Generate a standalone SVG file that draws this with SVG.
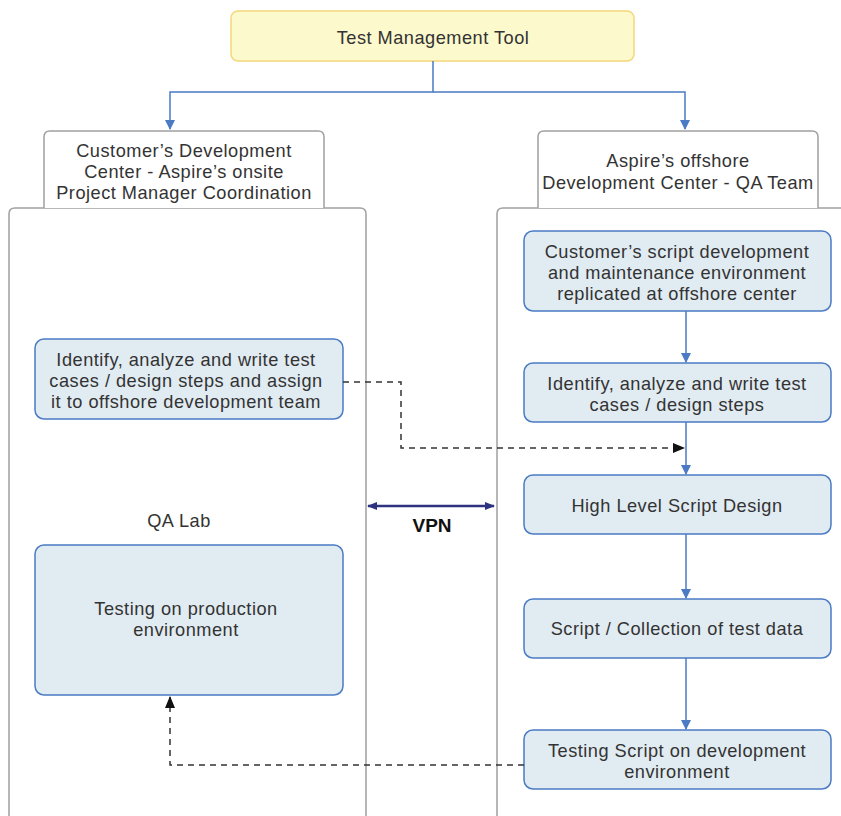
<svg xmlns="http://www.w3.org/2000/svg" width="841" height="816" viewBox="0 0 841 816">
<defs>
<style>
text{font-family:"Liberation Sans",Arial,sans-serif;font-size:18.2px;letter-spacing:0.5px;fill:#333;text-anchor:middle}
.hdr{fill:#fff;stroke:#a0a0a0;stroke-width:1.5}
.blue{fill:#e1ebf2;stroke:#4a7bc4;stroke-width:1.5}
.bl{stroke:#4a7bc4;stroke-width:1.5;fill:none}
.dash{stroke:#333;stroke-width:1.5;fill:none;stroke-dasharray:6,5}
</style>
<marker id="ab" markerWidth="10" markerHeight="10" refX="9" refY="5" orient="auto" markerUnits="userSpaceOnUse"><path d="M0,0 L10,5 L0,10 Z" fill="#4a7bc4"/></marker>
<marker id="ak" markerWidth="12" markerHeight="10" refX="11" refY="5" orient="auto" markerUnits="userSpaceOnUse"><path d="M0,0 L12,5 L0,10 Z" fill="#111"/></marker>
<marker id="av" markerWidth="10" markerHeight="10" refX="9" refY="5" orient="auto-start-reverse" markerUnits="userSpaceOnUse"><path d="M0,1 L10,5 L0,9 Z" fill="#2e3380"/></marker>
</defs>
<g id="containers">
<path class="hdr" d="M9,816 V214 Q9,208 15,208 H360 Q366,208 366,214 V816"/>
<path class="hdr" d="M497,816 V214 Q497,208 503,208 H841"/>
</g>
<g id="n-tool"><rect x="231" y="11" width="403" height="50" rx="7" fill="#fcf9cd" stroke="#f3d77b" stroke-width="1.5"/><text x="433" y="44">Test Management Tool</text></g>
<g id="n-customer"><path class="hdr" d="M44,208 V137 Q44,131 50,131 H318 Q324,131 324,137 V208"/><text x="184" y="157">Customer’s Development</text><text x="184" y="178">Center - Aspire’s onsite</text><text x="184" y="199">Project Manager Coordination</text></g>
<g id="n-offshore"><path class="hdr" d="M538,208 V137 Q538,131 544,131 H812 Q818,131 818,137 V208"/><text x="678" y="167">Aspire’s offshore</text><text x="678" y="189">Development Center - QA Team</text></g>
<g id="n-left1"><rect class="blue" x="35" y="339" width="308" height="80" rx="9"/><text x="186" y="366">Identify, analyze and write test</text><text x="186" y="387">cases / design steps and assign</text><text x="186" y="408">it to offshore development team</text></g>
<g id="n-qalab"><text x="179" y="527">QA Lab</text></g>
<g id="n-left2"><rect class="blue" x="35" y="545" width="308" height="150" rx="9"/><text x="186" y="615">Testing on production</text><text x="186" y="636">environment</text></g>
<g id="n-r1"><rect class="blue" x="524" y="231" width="307" height="80" rx="9"/><text x="677" y="258">Customer’s script development</text><text x="677" y="279">and maintenance environment</text><text x="677" y="300">replicated at offshore center</text></g>
<g id="n-r2"><rect class="blue" x="524" y="363" width="307" height="59" rx="9"/><text x="677" y="390">Identify, analyze and write test</text><text x="677" y="411">cases / design steps</text></g>
<g id="n-r3"><rect class="blue" x="524" y="475" width="307" height="59" rx="9"/><text x="677" y="512">High Level Script Design</text></g>
<g id="n-r4"><rect class="blue" x="524" y="599" width="307" height="59" rx="9"/><text x="677" y="635">Script / Collection of test data</text></g>
<g id="n-r5"><rect class="blue" x="524" y="730" width="307" height="59" rx="9"/><text x="677" y="757">Testing Script on development</text><text x="677" y="778">environment</text></g>
<g id="connectors">
<path class="bl" d="M433,61 V92 H170 V129" marker-end="url(#ab)"/>
<path class="bl" d="M433,92 H685 V129" marker-end="url(#ab)"/>
<path class="bl" d="M686,311 V362" marker-end="url(#ab)"/>
<path class="bl" d="M686,422 V474" marker-end="url(#ab)"/>
<path class="bl" d="M686,534 V598" marker-end="url(#ab)"/>
<path class="bl" d="M686,658 V729" marker-end="url(#ab)"/>
<path class="dash" d="M343,382 H401 V448 H684" marker-end="url(#ak)"/>
<path class="dash" d="M524,765 H170 V697" marker-end="url(#ak)"/>
<path d="M368,506 H494" stroke="#2e3380" stroke-width="2.5" fill="none" marker-start="url(#av)" marker-end="url(#av)"/>
<text x="432" y="532" style="font-weight:bold;font-size:19px;letter-spacing:0;fill:#111">VPN</text>
</g>
</svg>
